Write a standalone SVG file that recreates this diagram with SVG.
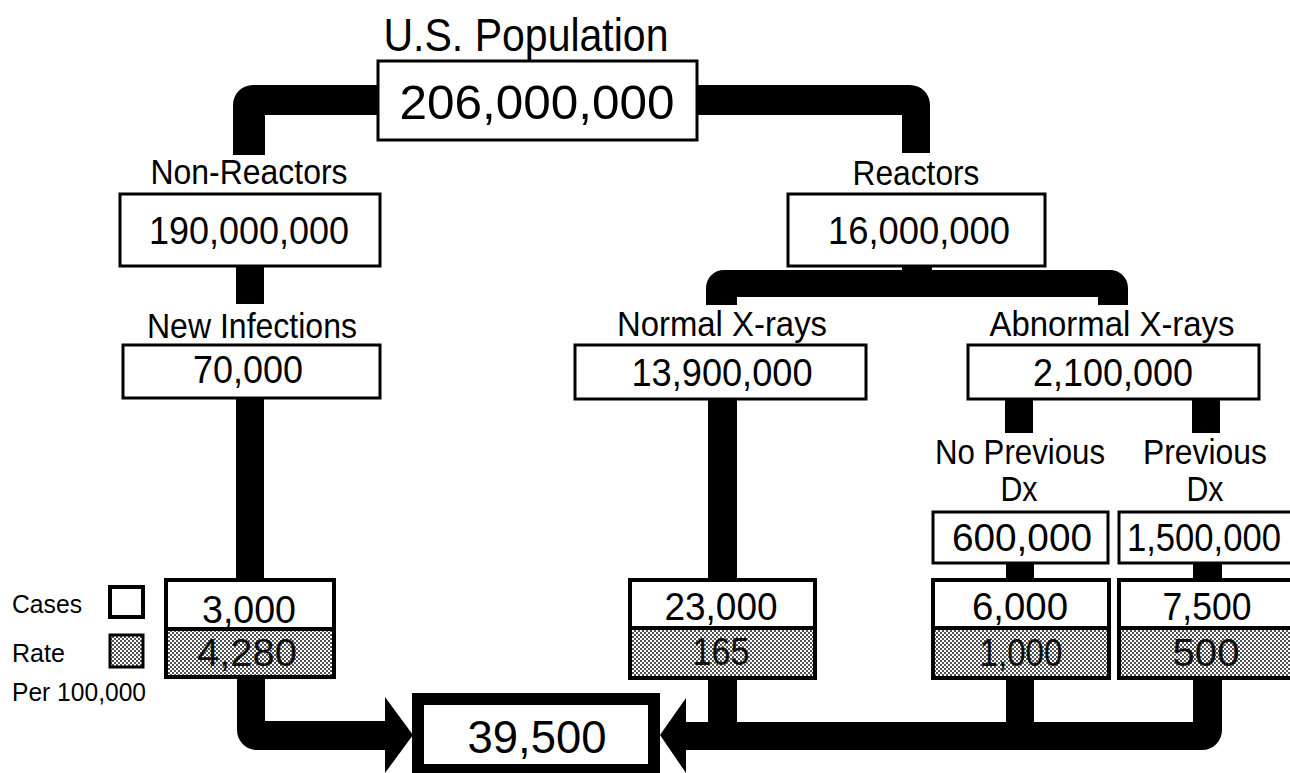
<svg xmlns="http://www.w3.org/2000/svg" width="1290" height="773" viewBox="0 0 1290 773">
<defs>
<pattern id="stip" width="4" height="4" patternUnits="userSpaceOnUse">
<rect width="4" height="4" fill="#fff"/>
<circle cx="1" cy="1" r="0.9" fill="#000"/>
<circle cx="3" cy="3" r="0.9" fill="#000"/>
</pattern>
<style>
text{font-family:"Liberation Sans",Arial,sans-serif;fill:#000;text-anchor:middle}
.lab{font-size:35px}
.num{font-size:38px}
.rate{font-size:38px;fill:#111}
.leg{font-size:26px;text-anchor:start}
.box{fill:#fff;stroke:#000;stroke-width:3}
.cbox{fill:#fff;stroke:#000;stroke-width:4}
.rbox{fill:url(#stip);stroke:#000;stroke-width:4}
.con{fill:#000}
</style>
</defs>
<rect width="1290" height="773" fill="#fff"/>

<g id="connectors">
<path class="con" d="M380 85 H253 A20 20 0 0 0 233 105 V155 H265 V115 H380 Z"/>
<path class="con" d="M695 85 H910 A20 20 0 0 1 930 105 V153 H902 V115 H695 Z"/>
<rect class="con" x="236" y="266" width="28" height="38"/>
<rect class="con" x="236" y="398" width="28" height="182"/>
<path class="con" d="M237 677 V730 A20 20 0 0 0 257 750 H386 V721 H265 V677 Z"/>
<polygon class="con" points="385,697 413,735 385,773"/>
<rect class="con" x="902" y="266" width="30" height="6"/>
<path class="con" d="M706 305 V288 A18 18 0 0 1 724 270 H1110 A18 18 0 0 1 1128 288 V305 H1098 V297 H737 V305 Z"/>
<rect class="con" x="708" y="399" width="29" height="181"/>
<rect class="con" x="708" y="678" width="29" height="46"/>
<rect class="con" x="1005" y="399" width="28" height="34"/>
<rect class="con" x="1192" y="399" width="28" height="34"/>
<rect class="con" x="1006" y="563" width="28" height="17"/>
<rect class="con" x="1193" y="563" width="29" height="17"/>
<rect class="con" x="1006" y="678" width="28" height="46"/>
<path class="con" d="M1193 678 V722 H686 V750 H1202 A20 20 0 0 0 1222 730 V678 Z"/>
<polygon class="con" points="686,698 660,735 686,773"/>
</g>

<g id="us-population">
<text x="526" y="51" style="font-size:46px" textLength="285" lengthAdjust="spacingAndGlyphs">U.S. Population</text>
<rect class="box" x="378" y="61" width="319" height="79"/>
<text x="537" y="119" style="font-size:48px" textLength="275" lengthAdjust="spacingAndGlyphs">206,000,000</text>
</g>

<g id="non-reactors">
<text class="lab" x="249" y="184" textLength="197" lengthAdjust="spacingAndGlyphs">Non-Reactors</text>
<rect class="box" x="120" y="194" width="260" height="72"/>
<text class="num" x="249" y="244" textLength="200" lengthAdjust="spacingAndGlyphs">190,000,000</text>
</g>

<g id="new-infections">
<text class="lab" x="252" y="338" textLength="210" lengthAdjust="spacingAndGlyphs">New Infections</text>
<rect class="box" x="123" y="345" width="257" height="53"/>
<text class="num" x="248" y="383" textLength="110" lengthAdjust="spacingAndGlyphs">70,000</text>
</g>

<g id="new-infections-cases">
<rect class="cbox" x="166" y="580" width="168" height="49"/>
<rect class="rbox" x="166" y="629" width="168" height="48"/>
<text class="num" x="249" y="623" textLength="94" lengthAdjust="spacingAndGlyphs">3,000</text>
<text class="rate" x="247" y="666" textLength="100" lengthAdjust="spacingAndGlyphs">4,280</text>
</g>

<g id="legend">
<text class="leg" x="12" y="613" textLength="70" lengthAdjust="spacingAndGlyphs">Cases</text>
<rect x="110" y="587" width="33" height="30" fill="#fff" stroke="#000" stroke-width="4"/>
<text class="leg" x="12" y="662" textLength="53" lengthAdjust="spacingAndGlyphs">Rate</text>
<rect x="110" y="635" width="33" height="32" fill="url(#stip)" stroke="#000" stroke-width="3"/>
<text class="leg" x="12" y="701" textLength="134" lengthAdjust="spacingAndGlyphs">Per 100,000</text>
</g>

<g id="total">
<rect x="418" y="699" width="236" height="71" fill="#fff" stroke="#000" stroke-width="12"/>
<text x="537" y="753" style="font-size:47px" textLength="139" lengthAdjust="spacingAndGlyphs">39,500</text>
</g>

<g id="reactors">
<text class="lab" x="916" y="185" textLength="127" lengthAdjust="spacingAndGlyphs">Reactors</text>
<rect class="box" x="788" y="194" width="257" height="72"/>
<text class="num" x="919" y="244" textLength="182" lengthAdjust="spacingAndGlyphs">16,000,000</text>
</g>

<g id="normal-xrays">
<text class="lab" x="722" y="336" textLength="210" lengthAdjust="spacingAndGlyphs">Normal X-rays</text>
<rect class="box" x="575" y="345" width="291" height="54"/>
<text class="num" x="722" y="386" textLength="181" lengthAdjust="spacingAndGlyphs">13,900,000</text>
</g>

<g id="normal-xrays-cases">
<rect class="cbox" x="630" y="580" width="185" height="48"/>
<rect class="rbox" x="630" y="628" width="185" height="50"/>
<text class="num" x="721" y="620" textLength="113" lengthAdjust="spacingAndGlyphs">23,000</text>
<text class="rate" x="721" y="665" textLength="57" lengthAdjust="spacingAndGlyphs">165</text>
</g>

<g id="abnormal-xrays">
<text class="lab" x="1112" y="336" textLength="245" lengthAdjust="spacingAndGlyphs">Abnormal X-rays</text>
<rect class="box" x="968" y="345" width="291" height="54"/>
<text class="num" x="1113" y="386" textLength="160" lengthAdjust="spacingAndGlyphs">2,100,000</text>
</g>

<g id="no-previous-dx">
<text class="lab" x="1020" y="464" textLength="170" lengthAdjust="spacingAndGlyphs">No Previous</text>
<text class="lab" x="1019" y="501" textLength="37" lengthAdjust="spacingAndGlyphs">Dx</text>
<rect class="box" x="933" y="512" width="175" height="51"/>
<text class="num" x="1022" y="551" textLength="140" lengthAdjust="spacingAndGlyphs">600,000</text>
</g>

<g id="no-previous-dx-cases">
<rect class="cbox" x="933" y="580" width="176" height="48"/>
<rect class="rbox" x="933" y="628" width="176" height="50"/>
<text class="num" x="1020" y="620" textLength="96" lengthAdjust="spacingAndGlyphs">6,000</text>
<text class="rate" x="1021" y="666" textLength="83" lengthAdjust="spacingAndGlyphs">1,000</text>
</g>

<g id="previous-dx">
<text class="lab" x="1205" y="464" textLength="124" lengthAdjust="spacingAndGlyphs">Previous</text>
<text class="lab" x="1205" y="501" textLength="37" lengthAdjust="spacingAndGlyphs">Dx</text>
<rect class="box" x="1119" y="512" width="180" height="51"/>
<text class="num" x="1204" y="551" textLength="154" lengthAdjust="spacingAndGlyphs">1,500,000</text>
</g>

<g id="previous-dx-cases">
<rect class="cbox" x="1119" y="580" width="180" height="48"/>
<rect class="rbox" x="1119" y="628" width="180" height="50"/>
<text class="num" x="1207" y="620" textLength="89" lengthAdjust="spacingAndGlyphs">7,500</text>
<text class="rate" x="1206" y="666" textLength="67" lengthAdjust="spacingAndGlyphs">500</text>
</g>
</svg>
